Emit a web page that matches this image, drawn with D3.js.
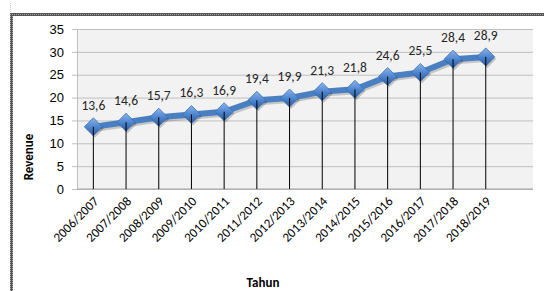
<!DOCTYPE html>
<html>
<head>
<meta charset="utf-8">
<script src="https://cdn.jsdelivr.net/npm/d3@7"></script>
<style>
  body { margin: 0; background: #ffffff; }
  svg { display: block; font-family: Calibri, Carlito, "Liberation Sans", "Open Sans", sans-serif; }
</style>
</head>
<body>
<svg id="chart"></svg>
<script>
"use strict";

const width = 544;
const height = 291;

// data
const years = ["2006/2007", "2007/2008", "2008/2009", "2009/2010", "2010/2011", "2011/2012",
    "2012/2013", "2013/2014", "2014/2015", "2015/2016", "2016/2017", "2017/2018", "2018/2019"];
const revenue = [13.6, 14.6, 15.7, 16.3, 16.9, 19.4, 19.9, 21.3, 21.8, 24.6, 25.5, 28.4, 28.9];
const y_ticks = [0, 5, 10, 15, 20, 25, 30, 35];

const plot_left = 77;
const plot_right = 533;
const plot_top = 29;
const plot_bottom = 189;
const band_step = 32.7;

const svg = d3.select("#chart")
    .attr("width", width)
    .attr("height", height);

// outer frame (hatched border top and left)
const defs = svg.append("defs");
const pat = defs.append("pattern")
    .attr("id", "hatch")
    .attr("width", 2)
    .attr("height", 2)
    .attr("patternUnits", "userSpaceOnUse");
pat.append("rect").attr("width", 2).attr("height", 2).attr("fill", "#555");
pat.append("rect").attr("width", 1).attr("height", 1).attr("fill", "#aaa");

svg.append("line")
    .attr("x1", 10.5).attr("x2", 10.5)
    .attr("y1", 3).attr("y2", 13)
    .attr("stroke", "#ccc")
    .attr("stroke-dasharray", "1,1");
svg.append("rect")
    .attr("x", 10).attr("y", 13)
    .attr("width", width - 10).attr("height", 3)
    .attr("fill", "url(#hatch)");
svg.append("rect")
    .attr("x", 10).attr("y", 13)
    .attr("width", 3).attr("height", height - 13)
    .attr("fill", "url(#hatch)");

// scales
const x = d3.scaleBand()
    .domain(years)
    .range([plot_left, plot_left + band_step * years.length]);

const y = d3.scaleLinear()
    .domain([0, 35])
    .range([plot_bottom, plot_top]);

// plot background
svg.append("rect")
    .attr("x", plot_left)
    .attr("y", plot_top)
    .attr("width", plot_right - plot_left)
    .attr("height", plot_bottom - plot_top)
    .attr("fill", "#f2f2f2");

// gridlines + y axis
const yAxis = d3.axisLeft(y)
    .tickValues(y_ticks)
    .tickSize(-(plot_right - plot_left))
    .tickPadding(13)
    .tickFormat(d3.format("d"));

const gy = svg.append("g")
    .attr("transform", `translate(${plot_left},0)`)
    .call(yAxis);
gy.select(".domain").attr("stroke", "#bfbfbf");
gy.selectAll(".tick line")
    .attr("stroke", "#bfbfbf")
    .attr("x1", -5);
gy.selectAll(".tick text")
    .attr("fill", "#000")
    .style("font-size", "13px");

// x axis labels
const gx = svg.append("g")
    .attr("transform", `translate(0,${plot_bottom})`);
gx.append("line")
    .attr("x1", plot_left).attr("x2", plot_right)
    .attr("stroke", "#a6a6a6");
gx.selectAll("text")
    .data(years)
    .enter()
    .append("text")
    .attr("transform", d => `translate(${x(d) + x.bandwidth() / 2 + 6},${13}) rotate(-45)`)
    .attr("text-anchor", "end")
    .style("font-size", "13px")
    .attr("fill", "#000")
    .text(d => d);

// drop lines
svg.append("g")
    .selectAll("line")
    .data(years)
    .enter()
    .append("line")
    .attr("x1", d => x(d) + x.bandwidth() / 2)
    .attr("x2", d => x(d) + x.bandwidth() / 2)
    .attr("y1", (d, i) => y(revenue[i]))
    .attr("y2", plot_bottom)
    .attr("stroke", "#000")
    .attr("stroke-width", 1);

// line with shadow
const line = d3.line()
    .x((d, i) => x(years[i]) + x.bandwidth() / 2)
    .y(d => y(d));

svg.append("path")
    .datum(revenue)
    .attr("d", line)
    .attr("fill", "none")
    .attr("stroke", "rgba(0,0,0,0.18)")
    .attr("stroke-width", 6)
    .attr("transform", "translate(1.5,2)");

svg.append("path")
    .datum(revenue)
    .attr("d", line)
    .attr("fill", "none")
    .attr("stroke", "#4a7fc1")
    .attr("stroke-width", 6)
    .attr("stroke-linejoin", "round");

// markers
const grad = defs.append("linearGradient")
    .attr("id", "mark")
    .attr("x1", 0).attr("y1", 0)
    .attr("x2", 0).attr("y2", 1);
grad.append("stop").attr("offset", "0%").attr("stop-color", "#8cb4ea");
grad.append("stop").attr("offset", "50%").attr("stop-color", "#4f86d0");
grad.append("stop").attr("offset", "100%").attr("stop-color", "#2b5d9e");

const diamond = "M0,-9 L9,0 L0,9 L-9,0 Z";

const marks = svg.append("g")
    .selectAll("g")
    .data(revenue)
    .enter()
    .append("g")
    .attr("transform", (d, i) => `translate(${x(years[i]) + x.bandwidth() / 2},${y(d)})`);

marks.append("path")
    .attr("d", diamond)
    .attr("fill", "rgba(0,0,0,0.2)")
    .attr("transform", "translate(1.5,2)");
marks.append("path")
    .attr("d", diamond)
    .attr("fill", "url(#mark)")
    .attr("stroke", "#3a6db0")
    .attr("stroke-width", 0.8);
marks.append("line")
    .attr("y1", 0).attr("y2", 9)
    .attr("stroke", "#000");

// value labels
svg.append("g")
    .selectAll("text")
    .data(revenue)
    .enter()
    .append("text")
    .attr("x", (d, i) => x(years[i]) + x.bandwidth() / 2)
    .attr("y", d => y(d) - 17)
    .attr("text-anchor", "middle")
    .style("font-size", "13.5px")
    .attr("fill", "#262626")
    .text(d => d3.format(".1f")(d).replace(".", ","));

// axis titles
svg.append("text")
    .attr("transform", `translate(33,157) rotate(-90)`)
    .attr("text-anchor", "middle")
    .style("font-size", "13px")
    .style("font-weight", "bold")
    .text("Revenue");

svg.append("text")
    .attr("x", 263)
    .attr("y", 287)
    .attr("text-anchor", "middle")
    .style("font-size", "13px")
    .style("font-weight", "bold")
    .text("Tahun");
</script>
</body>
</html>
